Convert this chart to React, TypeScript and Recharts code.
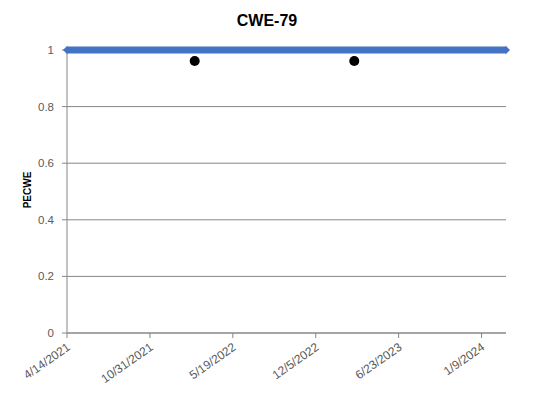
import { CartesianGrid, Scatter, ScatterChart, XAxis, YAxis } from "recharts";

const xTickLabels = ["4/14/2021", "10/31/2021", "5/19/2022", "12/5/2022", "6/23/2023", "1/9/2024"];
const xDomainLabels = ["4/14/2021", "3/8/2024"];
const yTicks = [0, 0.2, 0.4, 0.6, 0.8, 1];

// PECWE series (blue diamonds, shown as a continuous band)
const blueDates = ["4/14/2021", "3/8/2024"];
const blueValues = [1, 1];

// black markers
const blackDates = ["2/16/2022", "3/8/2023"];
const blackValues = [0.961, 0.961];

const FONT = "'Liberation Sans', Arial, sans-serif";
const AXIS_GRAY = "#868686";
const TEXT_GRAY = "#595959";
const BLUE = "#4472C4";

function parseDate(s: string) {
  const [m, d, y] = s.split("/").map(Number);
  return Date.UTC(y, m - 1, d);
}

function fmtDate(ms: number) {
  const dt = new Date(ms);
  return `${dt.getUTCMonth() + 1}/${dt.getUTCDate()}/${dt.getUTCFullYear()}`;
}

const blueData = blueDates.map((d, i) => ({ x: parseDate(d), y: blueValues[i] }));
const blackData = blackDates.map((d, i) => ({ x: parseDate(d), y: blackValues[i] }));
const xTicks = xTickLabels.map(parseDate);
const xDomain = xDomainLabels.map(parseDate);

function Diamond(props: any) {
  const { cx, cy } = props;
  const r = 4;
  return (
    <polygon
      points={`${cx - r},${cy} ${cx},${cy - r} ${cx + r},${cy} ${cx},${cy + r}`}
      fill={BLUE}
    />
  );
}

function Dot(props: any) {
  const { cx, cy } = props;
  return <circle cx={cx} cy={cy} r={5} fill="#000" />;
}

function XTick({ x, y, payload }: any) {
  return (
    <text
      x={x + 4}
      y={y + 9}
      transform={`rotate(-35 ${x + 4} ${y + 9})`}
      textAnchor="end"
      fill={TEXT_GRAY}
      fontSize={12}
      fontFamily={FONT}
    >
      {fmtDate(payload.value)}
    </text>
  );
}

function YLabel() {
  return (
    <text
      x={27}
      y={190}
      transform="rotate(-90 27 190)"
      textAnchor="middle"
      dominantBaseline="central"
      fontSize={10}
      fontWeight="bold"
      fontFamily={FONT}
      fill="#000"
    >
      PECWE
    </text>
  );
}

export default function App() {
  return (
    <div style={{ position: "absolute", left: 0, top: 0, width: 534, height: 401, background: "#fff" }}>
      <div
        style={{
          position: "absolute",
          top: 11,
          left: 0,
          width: 534,
          textAlign: "center",
          fontFamily: FONT,
          fontWeight: "bold",
          fontSize: 16,
          lineHeight: "20px",
          color: "#000",
        }}
      >
        CWE-79
      </div>
      <ScatterChart width={534} height={401} margin={{ top: 50, right: 28, bottom: 0, left: 0 }}>
        <CartesianGrid vertical={false} stroke={AXIS_GRAY} />
        <XAxis
          type="number"
          dataKey="x"
          domain={xDomain}
          ticks={xTicks}
          tick={<XTick />}
          tickSize={5}
          height={68}
          stroke={AXIS_GRAY}
          interval={0}
        />
        <YAxis
          type="number"
          dataKey="y"
          domain={[0, 1]}
          ticks={yTicks}
          width={67}
          tickSize={5}
          tickMargin={8}
          stroke={AXIS_GRAY}
          tick={{ fill: TEXT_GRAY, fontSize: 11.5, fontFamily: FONT }}
          label={{ content: () => <YLabel /> }}
        />
        <Scatter
          data={blueData}
          shape={<Diamond />}
          line={{ stroke: BLUE, strokeWidth: 7 }}
          isAnimationActive={false}
        />
        <Scatter data={blackData} shape={<Dot />} isAnimationActive={false} />
      </ScatterChart>
    </div>
  );
}
